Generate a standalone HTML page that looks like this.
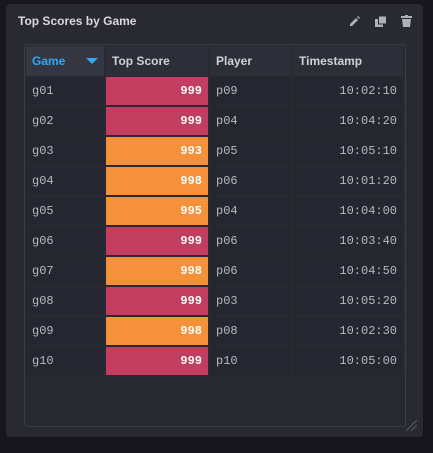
<!DOCTYPE html>
<html><head><meta charset="utf-8"><style>
body{margin:0;width:433px;height:453px;background:#16161c;position:relative;overflow:hidden;font-family:"Liberation Sans",sans-serif}
#panel{position:absolute;left:6px;top:4px;width:417px;height:433px;background:#292932;border-radius:4px}
#title{position:absolute;left:18px;top:14px;font-size:12px;font-weight:bold;color:#d8d8de}
#table{position:absolute;left:24px;top:44px;width:382px;height:383px;background:#292932;border:1px solid #3c3c48;border-radius:3px;box-sizing:border-box}
.c{position:absolute;box-sizing:border-box;font-size:12px;line-height:28px;padding:0 6px;color:#b8b8c2;background:#262630}
.h{font-weight:bold;color:#d0d0d8;background:#2e2e38;line-height:30px}
.m{font-family:"Liberation Mono",monospace;text-align:right}
.icon{position:absolute;top:14px;color:#b0b0b8;font-size:12px}
</style></head><body>
<div id="panel"></div>
<div id="title">Top Scores by Game</div>
<svg class="icon" style="left:349px;top:16px" width="11" height="11"><path d="M1 10 L1 8 L7 2 L9 4 L3 10 Z M8 1 L9 0 L11 2 L10 3Z" fill="#b0b0b8"/></svg>
<svg class="icon" style="left:375px;top:16px" width="12" height="12"><rect x="0" y="3" width="8" height="8" fill="#b0b0b8"/><rect x="3.5" y="0" width="8" height="8" fill="#b0b0b8" stroke="#292932" stroke-width="1"/></svg>
<svg class="icon" style="left:401px;top:15px" width="11" height="12"><rect x="0" y="1" width="11" height="2" fill="#b0b0b8"/><rect x="4" y="0" width="3" height="1" fill="#b0b0b8"/><path d="M1 4 H10 L9 12 H2 Z" fill="#b0b0b8"/></svg>
<div id="table"></div>
<svg style="position:absolute;left:404px;top:418px" width="14" height="14"><path d="M2 13 L13 2 M7 13 L13 7" stroke="#55555f" stroke-width="1.2"/></svg>
<script>
const games=["g01","g02","g03","g04","g05","g06","g07","g08","g09","g10"];
const scores=[999,999,993,998,995,999,998,999,998,999];
const players=["p09","p04","p05","p06","p04","p06","p06","p03","p08","p10"];
const times=["10:02:10","10:04:20","10:05:10","10:01:20","10:04:00","10:03:40","10:04:50","10:05:20","10:02:30","10:05:00"];
const headers=["Game","Top Score","Player","Timestamp"];
const colX=[26,106,210,293],colW=[78,102,81,110];
function cell(x,y,w,h,txt,cls,name){const d=document.createElement('div');d.className='c '+cls;d.style.left=x+'px';d.style.top=y+'px';d.style.width=w+'px';d.style.height=h+'px';d.textContent=txt;


document.body.appendChild(d);return d;}
headers.forEach((t,i)=>{const d=cell(colX[i],46,colW[i],30,t,'h','header-'+t.toLowerCase().replace(' ','-'));

if(i===0){d.style.color='#33a8f0';d.style.background='#363642';d.innerHTML='Game<span style="position:absolute;right:6px;top:12px;width:0;height:0;border-left:6px solid transparent;border-right:6px solid transparent;border-top:6px solid #33a8f0"></span>';}});
games.forEach((g,r)=>{const y=77+r*30;
cell(colX[0],y,colW[0],28,g,'m','game-cell').style.textAlign='left';
const s=cell(colX[1],y,colW[1],28,String(scores[r]),'m','score-cell');
s.style.background=scores[r]>=999?'#c13e60':'#f5913a';s.style.color='#fff';s.style.fontWeight='bold';
cell(colX[2],y,colW[2],28,players[r],'m','player-cell').style.textAlign='left';
cell(colX[3],y,colW[3],28,times[r],'m','timestamp-cell');});
</script>
</body></html>
